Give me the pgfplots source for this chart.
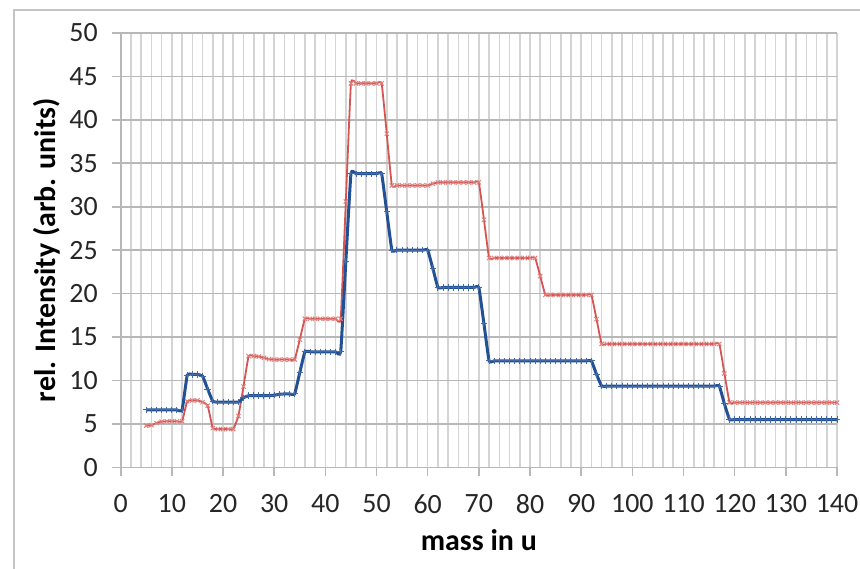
\documentclass[border=0pt]{standalone}
\usepackage{pgfplots}
\pgfplotsset{compat=1.18}
\usepackage{fontspec}
\setmainfont{Carlito}
\definecolor{serblue}{RGB}{34,80,148}
\definecolor{serred}{RGB}{214,84,82}
\definecolor{vgrid}{RGB}{212,212,212}
\definecolor{hgrid}{RGB}{184,184,184}
\definecolor{slideframe}{RGB}{196,196,196}

\begin{document}
\begin{tikzpicture}[x=1bp,y=1bp]
\useasboundingbox (0,0) rectangle (430,284.5);
% slide frame round the chart
\draw[slideframe, line width=0.8bp] (7,0) -- (7,279.5) -- (430,279.5);
\begin{axis}[
    at={(60.35bp,50.85bp)}, anchor=south west,
    scale only axis, width=358.15bp, height=217.15bp,
    xmin=0, xmax=140, ymin=0, ymax=50,
    xtick={0,10,...,140}, ytick={0,5,...,50},
    minor x tick num=4,
    xmajorgrids, xminorgrids, ymajorgrids,
    major x grid style={vgrid, line width=0.8bp},
    minor x grid style={vgrid, line width=0.8bp},
    major y grid style={hgrid, line width=0.8bp},
    axis lines=left,
    axis line style={-, hgrid, line width=0.8bp},
    tick align=outside,
    major tick length=4.5bp, minor tick length=0pt,
    tick style={hgrid, line width=0.8bp},
    /pgf/number format/assume math mode=true,
    ticklabel style={font=\fontsize{14}{14}\selectfont, text=black!85},
    xticklabel style={yshift=-5.5bp},
    yticklabel style={xshift=-3.5bp},
    xlabel={\textbf{mass in u}},
    ylabel={\textbf{rel. Intensity (arb. units)}},
    label style={font=\fontsize{15}{15}\selectfont},
    xlabel style={at={(axis description cs:0.5,-0.1674)}, anchor=center},
    ylabel style={at={(axis description cs:-0.1029,0.5)}, anchor=center},
    clip=false,
  ]
% red series
\addplot[serred, line width=0.9bp, smooth, tension=0.22,
  mark=x, mark size=1.5bp, mark options={serred!75, line width=0.5bp}] coordinates {
  (5,4.8)(6,4.85)(7,5.1)(8,5.25)(9,5.3)(10,5.3)(11,5.3)(12,5.3)
  (13,7.6)(14,7.7)(15,7.7)(16,7.5)(17,7.1)(18,4.5)
  (19,4.4)(20,4.4)(21,4.4)(22,4.4)(23,5.9)(24,9.3)
  (25,12.8)(26,12.8)(27,12.75)(28,12.6)(29,12.45)(30,12.4)
  (31,12.4)(32,12.4)(33,12.4)(34,12.4)(35,14.7)
  (36,17.1)(37,17.1)(38,17.1)(39,17.1)(40,17.1)(41,17.1)(42,17.1)(43,17.1)
  (44,30.6)
  (45,44.2)(46,44.2)(47,44.2)(48,44.2)(49,44.2)(50,44.2)(51,44.2)
  (52,38.4)
  (53,32.45)(54,32.45)(55,32.45)(56,32.45)(57,32.45)(58,32.45)(59,32.45)(60,32.45)
  (61,32.65)
  (62,32.8)(63,32.8)(64,32.8)(65,32.8)(66,32.8)(67,32.8)(68,32.8)(69,32.8)(70,32.8)
  (71,28.5)
  (72,24.1)(73,24.1)(74,24.1)(75,24.1)(76,24.1)(77,24.1)(78,24.1)(79,24.1)(80,24.1)(81,24.1)
  (82,22.0)
  (83,19.85)(84,19.85)(85,19.85)(86,19.85)(87,19.85)(88,19.85)(89,19.85)(90,19.85)(91,19.85)(92,19.85)
  (93,17.05)
  (94,14.2)(95,14.2)(96,14.2)(97,14.2)(98,14.2)(99,14.2)(100,14.2)(101,14.2)
  (102,14.2)(103,14.2)(104,14.2)(105,14.2)(106,14.2)(107,14.2)(108,14.2)(109,14.2)
  (110,14.2)(111,14.2)(112,14.2)(113,14.2)(114,14.2)(115,14.2)(116,14.2)(117,14.2)
  (118,10.8)
  (119,7.45)(120,7.45)(121,7.45)(122,7.45)(123,7.45)(124,7.45)(125,7.45)(126,7.45)
  (127,7.45)(128,7.45)(129,7.45)(130,7.45)(131,7.45)(132,7.45)(133,7.45)(134,7.45)
  (135,7.45)(136,7.45)(137,7.45)(138,7.45)(139,7.45)(140,7.45)
};
% blue series
\addplot[serblue, line width=1.5bp, smooth, tension=0.22,
  mark=+, mark size=1.6bp, mark options={serblue!85, line width=0.5bp}] coordinates {
  (5,6.6)(6,6.6)(7,6.6)(8,6.6)(9,6.6)(10,6.6)(11,6.6)(12,6.6)
  (13,10.6)(14,10.7)(15,10.7)(16,10.5)(17,9.0)(18,7.6)
  (19,7.5)(20,7.5)(21,7.5)(22,7.5)(23,7.5)(24,8.0)
  (25,8.25)(26,8.25)(27,8.25)(28,8.25)(29,8.25)(30,8.3)
  (31,8.4)(32,8.45)(33,8.45)(34,8.45)(35,10.9)
  (36,13.3)(37,13.3)(38,13.3)(39,13.3)(40,13.3)(41,13.3)(42,13.3)(43,13.3)
  (44,23.7)
  (45,33.8)(46,33.8)(47,33.8)(48,33.8)(49,33.8)(50,33.8)(51,33.8)
  (52,29.4)
  (53,25.0)(54,25.0)(55,25.0)(56,25.0)(57,25.0)(58,25.0)(59,25.0)(60,25.0)
  (61,22.9)
  (62,20.7)(63,20.7)(64,20.7)(65,20.7)(66,20.7)(67,20.7)(68,20.7)(69,20.7)(70,20.7)
  (71,16.5)
  (72,12.25)(73,12.25)(74,12.25)(75,12.25)(76,12.25)(77,12.25)(78,12.25)
  (79,12.25)(80,12.25)(81,12.25)(82,12.25)(83,12.25)(84,12.25)(85,12.25)
  (86,12.25)(87,12.25)(88,12.25)(89,12.25)(90,12.25)(91,12.25)(92,12.25)
  (93,10.7)
  (94,9.35)(95,9.35)(96,9.35)(97,9.35)(98,9.35)(99,9.35)(100,9.35)(101,9.35)
  (102,9.35)(103,9.35)(104,9.35)(105,9.35)(106,9.35)(107,9.35)(108,9.35)(109,9.35)
  (110,9.35)(111,9.35)(112,9.35)(113,9.35)(114,9.35)(115,9.35)(116,9.35)(117,9.35)
  (118,7.3)
  (119,5.5)(120,5.5)(121,5.5)(122,5.5)(123,5.5)(124,5.5)(125,5.5)(126,5.5)
  (127,5.5)(128,5.5)(129,5.5)(130,5.5)(131,5.5)(132,5.5)(133,5.5)(134,5.5)
  (135,5.5)(136,5.5)(137,5.5)(138,5.5)(139,5.5)(140,5.5)
};
\end{axis}
\end{tikzpicture}
\end{document}
